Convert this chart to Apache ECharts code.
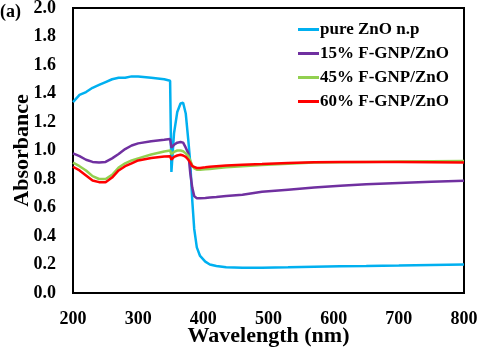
<!DOCTYPE html>
<html>
<head>
<meta charset="utf-8">
<script src="https://cdn.jsdelivr.net/npm/echarts@6/dist/echarts.min.js"></script>
<style>
  html, body { margin: 0; padding: 0; background: #fff; }
  #chart { width: 490px; height: 351px; }
</style>
</head>
<body>
<div id="chart"></div>
<script>
// wavelength (nm), shared by all four spectra
const wavelength = [200, 210, 220, 230, 240, 250, 260, 270, 280, 290, 300, 320, 340, 349, 351,
  355, 360, 365, 369, 373, 377, 380, 383, 386, 390, 395, 403, 410, 420, 435,
  460, 490, 530, 570, 610, 650, 700, 750, 800]

// absorbance values
const pureZnO = [1.34, 1.39, 1.41, 1.44, 1.46, 1.48, 1.50, 1.51, 1.51, 1.52, 1.52, 1.51, 1.50, 1.49, 0.85,
  1.12, 1.27, 1.33, 1.335, 1.26, 1.07, 0.91, 0.65, 0.45, 0.32, 0.26, 0.22, 0.20, 0.19, 0.18,
  0.178, 0.178, 0.18, 0.185, 0.188, 0.19, 0.193, 0.197, 0.20]
const gnp15 = [0.98, 0.96, 0.935, 0.92, 0.915, 0.92, 0.945, 0.975, 1.01, 1.035, 1.05, 1.065, 1.075, 1.08, 1.02,
  1.04, 1.055, 1.06, 1.055, 1.02, 0.98, 0.84, 0.74, 0.68, 0.665, 0.665, 0.667, 0.67, 0.673, 0.68,
  0.69, 0.71, 0.725, 0.74, 0.752, 0.763, 0.772, 0.78, 0.788]
const gnp45 = [0.915, 0.89, 0.86, 0.82, 0.80, 0.80, 0.83, 0.88, 0.91, 0.93, 0.945, 0.972, 0.993, 1.0, 0.975,
  0.99, 1.0, 1.0, 0.995, 0.98, 0.96, 0.93, 0.895, 0.875, 0.865, 0.865, 0.868, 0.87, 0.875, 0.882,
  0.89, 0.898, 0.907, 0.915, 0.918, 0.92, 0.922, 0.924, 0.926]
const gnp60 = [0.886, 0.86, 0.825, 0.79, 0.778, 0.777, 0.81, 0.86, 0.89, 0.91, 0.93, 0.948, 0.958, 0.96, 0.935,
  0.955, 0.965, 0.97, 0.965, 0.955, 0.935, 0.915, 0.89, 0.88, 0.877, 0.878, 0.882, 0.886, 0.89, 0.895,
  0.9, 0.905, 0.912, 0.917, 0.92, 0.92, 0.92, 0.918, 0.915]

const seriesNames = ['pure ZnO n.p', '15% F-GNP/ZnO', '45% F-GNP/ZnO', '60% F-GNP/ZnO']
const seriesColors = ['#00b0f0', '#7030a0', '#92d050', '#ff0000']
const seriesValues = [pureZnO, gnp15, gnp45, gnp60]

const FONT = '"Liberation Serif", "Times New Roman", serif'

const chart = echarts.init(document.getElementById('chart'), null, { renderer: 'canvas' })

const toPairs = (vals) => wavelength.map((w, i) => [w, vals[i]])

const option = {
  animation: false,
  backgroundColor: '#fff',
  grid: {
    left: 73,
    right: 26,
    top: 8,
    bottom: 58,
    outerBoundsMode: 'none',
    containLabel: false,
    show: true,
    borderColor: '#000',
    borderWidth: 2
  },
  legend: {
    orient: 'vertical',
    left: 293,
    top: 16,
    icon: 'rect',
    itemWidth: 21,
    itemHeight: 3,
    itemGap: 7,
    data: seriesNames,
    textStyle: {
      fontFamily: FONT,
      fontWeight: 'bold',
      fontSize: 17,
      lineHeight: 17,
      color: '#000',
      padding: [0, 0, 0, -4]
    }
  },
  xAxis: {
    type: 'value',
    min: 200,
    max: 800,
    interval: 100,
    name: 'Wavelength (nm)',
    nameLocation: 'middle',
    nameGap: 32,
    nameMoveOverlap: false,
    nameTextStyle: { fontFamily: FONT, fontWeight: 'bold', fontSize: 22, color: '#000' },
    axisLine: { lineStyle: { color: '#000', width: 2 } },
    axisTick: { show: false },
    splitLine: { show: false },
    axisLabel: { fontFamily: FONT, fontWeight: 'bold', fontSize: 18, color: '#000', margin: 17 }
  },
  yAxis: {
    type: 'value',
    min: 0,
    max: 2,
    interval: 0.2,
    name: 'Absorbance',
    nameLocation: 'middle',
    nameGap: 40,
    nameMoveOverlap: false,
    nameTextStyle: { fontFamily: FONT, fontWeight: 'bold', fontSize: 22, color: '#000' },
    axisLine: { show: true, lineStyle: { color: '#000', width: 2 } },
    axisTick: { show: false },
    splitLine: { show: false },
    axisLabel: {
      fontFamily: FONT, fontWeight: 'bold', fontSize: 18, color: '#000', margin: 17,
      formatter: (v) => v.toFixed(1)
    }
  },
  graphic: [{
    type: 'text',
    left: 0,
    top: 3,
    style: { text: '(a)', fontFamily: FONT, fontWeight: 'bold', fontSize: 18, fill: '#000' }
  }],
  series: seriesNames.map((name, i) => ({
    name: name,
    type: 'line',
    data: toPairs(seriesValues[i]),
    showSymbol: false,
    symbol: 'none',
    color: seriesColors[i],
    lineStyle: { color: seriesColors[i], width: 2.5 }
  }))
}

chart.setOption(option)
</script>
</body>
</html>
